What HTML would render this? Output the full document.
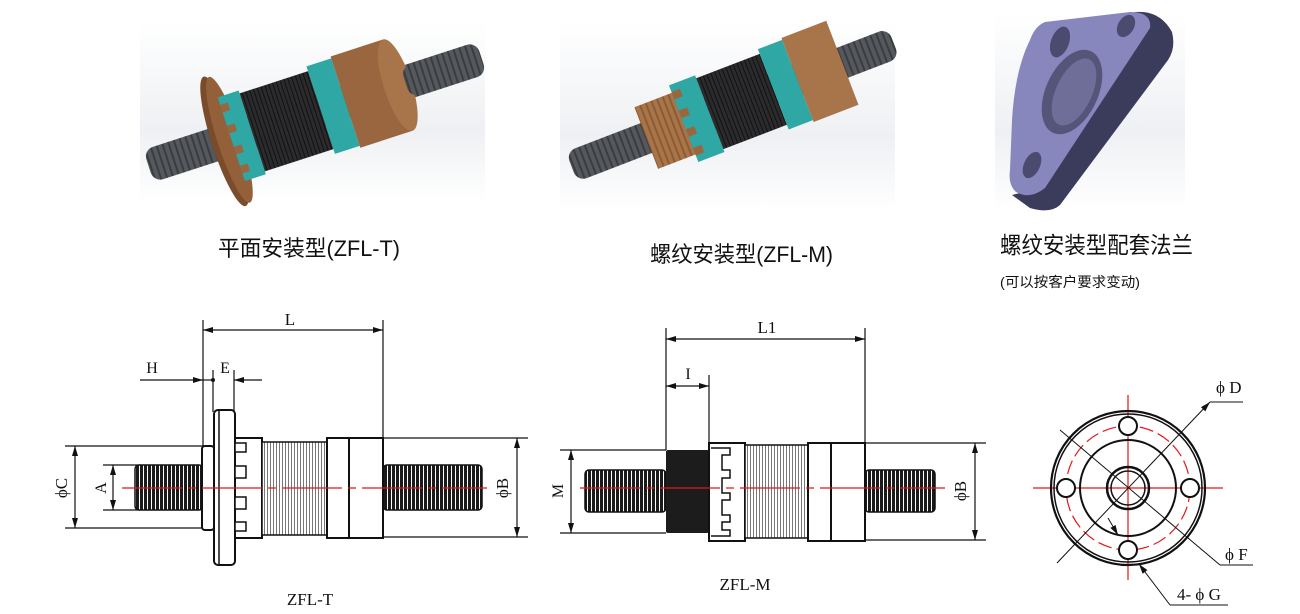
<!DOCTYPE html>
<html><head><meta charset="utf-8"><style>
html,body{margin:0;padding:0;background:#fff;}
svg{display:block;}
.cj{font-family:"Liberation Sans","Noto Sans CJK SC",sans-serif;fill:#111;}
.dl{font-family:"Liberation Serif","Noto Serif CJK SC",serif;fill:#111;}
</style></head><body>
<svg width="1300" height="614" viewBox="0 0 1300 614" xmlns="http://www.w3.org/2000/svg">
<defs>
<pattern id="thr" width="4" height="10" patternUnits="userSpaceOnUse"><rect width="4" height="10" fill="#fff"/><rect width="3" height="10" fill="#1a1a1a"/></pattern>
<pattern id="body" width="3" height="10" patternUnits="userSpaceOnUse"><rect width="3" height="10" fill="#fff"/><rect width="1" height="10" fill="#777"/></pattern>
<pattern id="sh" width="6" height="10" patternUnits="userSpaceOnUse"><rect width="6" height="10" fill="#55585d"/><rect width="2" height="10" fill="#3a3c40"/></pattern>
<pattern id="bk" width="4" height="10" patternUnits="userSpaceOnUse"><rect width="4" height="10" fill="#2b2b2d"/><rect width="1" height="10" fill="#111"/></pattern>
<pattern id="br" width="6" height="10" patternUnits="userSpaceOnUse"><rect width="6" height="10" fill="#a87448"/><rect width="2" height="10" fill="#8a5c36"/></pattern>
<linearGradient id="bg" x1="0" y1="0" x2="0" y2="1"><stop offset="0" stop-color="#fff"/><stop offset="0.6" stop-color="#eef0f3"/><stop offset="1" stop-color="#fff"/></linearGradient>
<marker id="ar" viewBox="0 0 10 6" refX="10" refY="3" markerWidth="10" markerHeight="6" orient="auto-start-reverse" markerUnits="userSpaceOnUse"><path d="M0,0 L10,3 L0,6z" fill="#111"/></marker>
</defs>

<rect x="140" y="22" width="345" height="180" fill="url(#bg)"/>
<rect x="560" y="22" width="335" height="190" fill="url(#bg)"/>
<rect x="995" y="12" width="190" height="200" fill="url(#bg)"/>

<!-- Render 1 -->
<g transform="translate(315,112) rotate(-18)">
<rect x="-175" y="-17" width="350" height="34" rx="10" fill="url(#sh)"/>
<ellipse cx="-95" cy="0" rx="13" ry="68" fill="#7a4c2c"/>
<ellipse cx="-90" cy="0" rx="12" ry="66" fill="#94603a"/>
<rect x="-88" y="-44" width="22" height="88" fill="#2fa7a4"/>
<rect x="-88" y="-36" width="8" height="8" fill="#9a6640"/><rect x="-88" y="-14" width="8" height="8" fill="#9a6640"/><rect x="-88" y="8" width="8" height="8" fill="#9a6640"/><rect x="-88" y="28" width="8" height="8" fill="#9a6640"/>
<rect x="-66" y="-41" width="72" height="82" fill="url(#bk)"/>
<rect x="6" y="-46" width="26" height="92" fill="#2fa7a4"/>
<rect x="32" y="-48" width="55" height="96" fill="#9a6640"/>
<ellipse cx="87" cy="0" rx="14" ry="48" fill="#a8744a"/>
<rect x="95" y="-16" width="80" height="32" rx="10" fill="url(#sh)"/>
</g>
<!-- Render 2 -->
<g transform="translate(735,104) rotate(-21)">
<rect x="-175" y="-16" width="345" height="32" rx="10" fill="url(#sh)"/>
<rect x="-95" y="-33" width="42" height="66" fill="url(#br)"/>
<rect x="-55" y="-41" width="28" height="82" fill="#2fa7a4"/>
<rect x="-55" y="-34" width="9" height="8" fill="#9a6640"/><rect x="-55" y="-14" width="9" height="8" fill="#9a6640"/><rect x="-55" y="6" width="9" height="8" fill="#9a6640"/><rect x="-55" y="26" width="9" height="8" fill="#9a6640"/>
<rect x="-27" y="-38" width="68" height="76" fill="url(#bk)"/>
<rect x="41" y="-43" width="26" height="86" fill="#2fa7a4"/>
<rect x="67" y="-45" width="48" height="90" fill="#a8744a"/>
</g>
<!-- Render 3 flange -->
<path d="M1135,12 Q1160,10 1172,32 Q1176,48 1168,60 L1060,205 Q1050,214 1030,208 L1012,195 L1040,188 Z" fill="#3b3b5c"/>
<path d="M1045,22 L1130,12 Q1152,12 1150,28 L1045,188 Q1030,200 1016,192 Q1008,185 1010,170 L1012,120 Q1015,70 1030,40 Q1035,26 1045,22 Z" fill="#8787bd"/>
<ellipse cx="1060" cy="42" rx="9" ry="16" fill="#4b4b70" transform="rotate(20 1060 42)"/>
<ellipse cx="1126" cy="26" rx="8" ry="12" fill="#4b4b70" transform="rotate(30 1126 26)"/>
<ellipse cx="1032" cy="165" rx="8" ry="14" fill="#4b4b70" transform="rotate(25 1032 165)"/>
<ellipse cx="1072" cy="92" rx="26" ry="45" fill="#55557a" transform="rotate(25 1072 92)"/>
<ellipse cx="1074" cy="92" rx="18" ry="36" fill="#6e6e98" transform="rotate(25 1074 92)"/>

<!-- Labels -->
<text class="cj" x="218" y="256" font-size="22" textLength="182" lengthAdjust="spacingAndGlyphs">平面安装型(ZFL-T)</text>
<text class="cj" x="650" y="262" font-size="22" textLength="183" lengthAdjust="spacingAndGlyphs">螺纹安装型(ZFL-M)</text>
<text class="cj" x="1000" y="253" font-size="23" textLength="193" lengthAdjust="spacingAndGlyphs">螺纹安装型配套法兰</text>
<text class="cj" x="1000" y="287" font-size="14" textLength="140" lengthAdjust="spacingAndGlyphs">(可以按客户要求变动)</text>

<g stroke="#111" stroke-width="1.2" fill="none">
<!-- ZFL-T -->
<line x1="203" y1="320" x2="203" y2="446"/><line x1="383" y1="320" x2="383" y2="438"/>
<line x1="203" y1="330" x2="383" y2="330" marker-start="url(#ar)" marker-end="url(#ar)"/>
<line x1="140" y1="380" x2="203" y2="380" marker-end="url(#ar)"/>
<line x1="213" y1="370" x2="213" y2="412"/><line x1="234" y1="370" x2="234" y2="412"/>
<line x1="262" y1="380" x2="234" y2="380" marker-end="url(#ar)"/><line x1="203" y1="380" x2="213" y2="380"/>
<line x1="65" y1="446" x2="203" y2="446"/><line x1="65" y1="528" x2="203" y2="528"/>
<line x1="75" y1="446" x2="75" y2="528" marker-start="url(#ar)" marker-end="url(#ar)"/>
<line x1="103" y1="465" x2="140" y2="465"/><line x1="103" y1="510" x2="140" y2="510"/>
<line x1="113" y1="465" x2="113" y2="510" marker-start="url(#ar)" marker-end="url(#ar)"/>
<line x1="383" y1="438" x2="528" y2="438"/><line x1="383" y1="537" x2="528" y2="537"/>
<line x1="517" y1="438" x2="517" y2="537" marker-start="url(#ar)" marker-end="url(#ar)"/>
</g>
<circle cx="213" cy="380" r="2" fill="#111"/>
<rect x="135" y="465" width="68" height="45" rx="4" fill="url(#thr)" stroke="#111" stroke-width="1.5"/>
<rect x="383" y="465" width="99" height="45" rx="4" fill="url(#thr)" stroke="#111" stroke-width="1.5"/>
<rect x="202" y="446" width="12" height="84" rx="3" fill="#fff" stroke="#111" stroke-width="2"/>
<rect x="214" y="410" width="21" height="155" rx="4" fill="#fff" stroke="#111" stroke-width="2"/>
<line x1="219" y1="411" x2="219" y2="564" stroke="#111" stroke-width="1.5"/>
<rect x="235" y="438" width="27" height="100" fill="#fff" stroke="#111" stroke-width="2"/>
<g fill="#fff" stroke="#111" stroke-width="1.5"><rect x="235" y="443" width="11" height="9"/><rect x="235" y="466" width="11" height="12"/><rect x="235" y="497" width="11" height="12"/><rect x="235" y="522" width="11" height="9"/></g>
<rect x="262" y="442" width="65" height="93" fill="url(#body)" stroke="#111" stroke-width="1.5"/>
<rect x="327" y="438" width="56" height="100" fill="#fff" stroke="#111" stroke-width="2"/>
<line x1="349" y1="438" x2="349" y2="538" stroke="#111" stroke-width="2"/>
<line x1="122" y1="488" x2="487" y2="488" stroke="#e01818" stroke-width="1.2" stroke-dasharray="60,6,8,6"/>
<text class="dl" x="152" y="373" font-size="16" text-anchor="middle">H</text>
<text class="dl" x="225" y="373" font-size="16" text-anchor="middle">E</text>
<text class="dl" x="290" y="325" font-size="17" text-anchor="middle">L</text>
<text class="dl" font-size="17" text-anchor="middle" transform="translate(67,488) rotate(-90)">ϕC</text>
<text class="dl" font-size="16" text-anchor="middle" transform="translate(106,488) rotate(-90)">A</text>
<text class="dl" font-size="17" text-anchor="middle" transform="translate(508,488) rotate(-90)">ϕB</text>
<text class="dl" x="310" y="605" font-size="17" text-anchor="middle">ZFL-T</text>

<!-- ZFL-M -->
<g stroke="#111" stroke-width="1.2" fill="none">
<line x1="666" y1="328" x2="666" y2="450"/><line x1="865" y1="328" x2="865" y2="443"/>
<line x1="666" y1="339" x2="865" y2="339" marker-start="url(#ar)" marker-end="url(#ar)"/>
<line x1="709" y1="375" x2="709" y2="443"/>
<line x1="666" y1="386" x2="709" y2="386" marker-start="url(#ar)" marker-end="url(#ar)"/>
<line x1="560" y1="450" x2="666" y2="450"/><line x1="560" y1="533" x2="666" y2="533"/>
<line x1="571" y1="450" x2="571" y2="533" marker-start="url(#ar)" marker-end="url(#ar)"/>
<line x1="865" y1="443" x2="986" y2="443"/><line x1="865" y1="540" x2="986" y2="540"/>
<line x1="975" y1="443" x2="975" y2="540" marker-start="url(#ar)" marker-end="url(#ar)"/>
</g>
<rect x="585" y="470" width="81" height="42" rx="4" fill="url(#thr)" stroke="#111" stroke-width="1.5"/>
<rect x="865" y="470" width="70" height="42" rx="4" fill="url(#thr)" stroke="#111" stroke-width="1.5"/>
<rect x="666" y="450" width="43" height="83" rx="2" fill="#1c1c1c"/>
<rect x="709" y="443" width="36" height="98" fill="#fff" stroke="#111" stroke-width="2"/>
<path d="M711,448 H730 V455 H722 V470 H730 V478 H722 V493 H730 V500 H722 V515 H730 V522 H722 V530 H730 V536 H711" fill="none" stroke="#111" stroke-width="1.5"/>
<rect x="745" y="445" width="63" height="93" fill="url(#body)" stroke="#111" stroke-width="1.5"/>
<rect x="808" y="443" width="57" height="98" fill="#fff" stroke="#111" stroke-width="2"/>
<line x1="831" y1="443" x2="831" y2="541" stroke="#111" stroke-width="2"/>
<line x1="580" y1="488" x2="945" y2="488" stroke="#e01818" stroke-width="1.2" stroke-dasharray="60,6,8,6"/>
<text class="dl" x="767" y="333" font-size="17" text-anchor="middle">L1</text>
<text class="dl" x="688" y="379" font-size="16" text-anchor="middle">I</text>
<text class="dl" font-size="16" text-anchor="middle" transform="translate(563,491) rotate(-90)">M</text>
<text class="dl" font-size="17" text-anchor="middle" transform="translate(966,491) rotate(-90)">ϕB</text>
<text class="dl" x="745" y="590" font-size="17" text-anchor="middle">ZFL-M</text>

<!-- Circle view -->
<g fill="none">
<line x1="1033" y1="488" x2="1223" y2="488" stroke="#e01818" stroke-width="1.2"/>
<line x1="1128" y1="395" x2="1128" y2="580" stroke="#e01818" stroke-width="1.2"/>
<circle cx="1128" cy="488" r="62" stroke="#e01818" stroke-width="1.2" stroke-dasharray="14,5"/>
<circle cx="1128" cy="488" r="77" stroke="#111" stroke-width="2.2"/>
<circle cx="1128" cy="488" r="74" stroke="#111" stroke-width="1.5"/>
<circle cx="1128" cy="488" r="48" stroke="#111" stroke-width="2"/>
<circle cx="1128" cy="488" r="21" stroke="#111" stroke-width="2.5"/>
<circle cx="1128" cy="488" r="17" stroke="#111" stroke-width="1.5"/>
<g stroke="#111" stroke-width="2" fill="#fff"><circle cx="1128" cy="426" r="9"/><circle cx="1128" cy="550" r="9"/><circle cx="1066" cy="488" r="9"/><circle cx="1190" cy="488" r="9"/></g>
<g stroke="#111" stroke-width="1">
<line x1="1057" y1="563" x2="1210" y2="402" marker-end="url(#ar)"/>
<line x1="1210" y1="402" x2="1243" y2="402"/>
<line x1="1060" y1="430" x2="1220" y2="565"/>
<line x1="1220" y1="565" x2="1253" y2="565"/>
<line x1="1170" y1="605" x2="1139" y2="564" marker-end="url(#ar)"/>
<line x1="1170" y1="605" x2="1228" y2="605"/>
<line x1="1108" y1="518" x2="1118" y2="535" marker-end="url(#ar)"/>
</g>
</g>
<text class="dl" x="1216" y="393" font-size="17">ϕ D</text>
<text class="dl" x="1225" y="560" font-size="17">ϕ F</text>
<text class="dl" x="1177" y="600" font-size="17">4- ϕ G</text>
</svg>
</body></html>
